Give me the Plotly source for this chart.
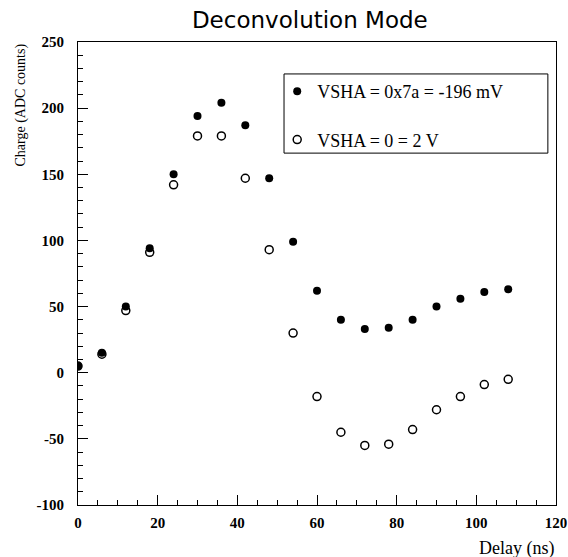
import plotly.graph_objects as go

delay = [0, 6, 12, 18, 24, 30, 36, 42, 48, 54, 60, 66, 72, 78, 84, 90, 96, 102, 108]
charge_7a = [5, 15, 50, 94, 150, 194, 204, 187, 147, 99, 62, 40, 33, 34, 40, 50, 56, 61, 63]
charge_0 = [5, 14, 47, 91, 142, 179, 179, 147, 93, 30, -18, -45, -55, -54, -43, -28, -18, -9, -5]

x_ticks = [0, 20, 40, 60, 80, 100, 120]
y_ticks = [-100, -50, 0, 50, 100, 150, 200, 250]
y_tick_text = ["-100", "-50", "0", "50", "100", "150", "200", "250"]

name_7a = "VSHA = 0x7a = -196 mV"
name_0 = "VSHA = 0 = 2 V"

serif = "Liberation Serif"

fig = go.Figure()
fig.add_trace(go.Scatter(
    x=delay, y=charge_7a, mode="markers", name=name_7a, legendgroup="a",
    marker=dict(symbol="circle", size=8, color="black"),
))
fig.add_trace(go.Scatter(
    x=delay, y=charge_0, mode="markers", name=name_0, legendgroup="b",
    marker=dict(symbol="circle-open", size=8, color="black", line=dict(width=1.5, color="black")),
))

fig.update_layout(
    width=568, height=557,
    margin=dict(l=78, r=12, t=42, b=52),
    paper_bgcolor="white", plot_bgcolor="white",
    title=dict(text="Deconvolution Mode", x=0.485, xref="paper", xanchor="center",
               y=1 - 20 / 557, yref="container", yanchor="middle",
               font=dict(family="DejaVu Sans", size=23, color="black")),
    showlegend=True,
    legend=dict(x=0.90, y=0.933, xanchor="right", yanchor="top",
                bgcolor="rgba(0,0,0,0)", borderwidth=0,
                font=dict(family=serif, size=18, color="black"),
                tracegroupgap=22),
    xaxis=dict(range=[0, 120], tickvals=x_ticks, ticks="inside", ticklen=10, tickwidth=1,
               tickcolor="black", showgrid=False, zeroline=False, automargin=False,
               showline=True, linecolor="black", linewidth=1, mirror=True,
               tickfont=dict(family=serif, size=15, color="black", weight="bold"),
               ticklabelstandoff=4,
               minor=dict(dtick=5, tick0=0, ticks="inside", ticklen=5, tickcolor="black", showgrid=False)),
    yaxis=dict(range=[-100, 250], tickvals=y_ticks, ticktext=y_tick_text, ticks="inside", ticklen=10,
               tickwidth=1, tickcolor="black", showgrid=False, zeroline=False, automargin=False,
               showline=True, linecolor="black", linewidth=1, mirror=True,
               tickfont=dict(family=serif, size=15, color="black", weight="bold"),
               ticklabelstandoff=10,
               minor=dict(dtick=10, tick0=0, ticks="inside", ticklen=5, tickcolor="black", showgrid=False)),
    shapes=[dict(type="rect", xref="paper", yref="paper", x0=0.431, x1=0.983, y0=0.760, y1=0.931,
                 line=dict(color="black", width=1), fillcolor="rgba(0,0,0,0)")],
    annotations=[
        dict(text="Charge (ADC counts)", textangle=-90, xref="paper", yref="paper",
             x=(20 - 78) / 478, y=1.0, xanchor="center", yanchor="top", showarrow=False,
             font=dict(family=serif, size=14, color="black")),
        dict(text="Delay (ns)", xref="paper", yref="paper", x=1.0, y=(505 - 548) / 463,
             xanchor="right", yanchor="middle", showarrow=False,
             font=dict(family=serif, size=18, color="black")),
    ],
)

fig.write_html("out.html")
